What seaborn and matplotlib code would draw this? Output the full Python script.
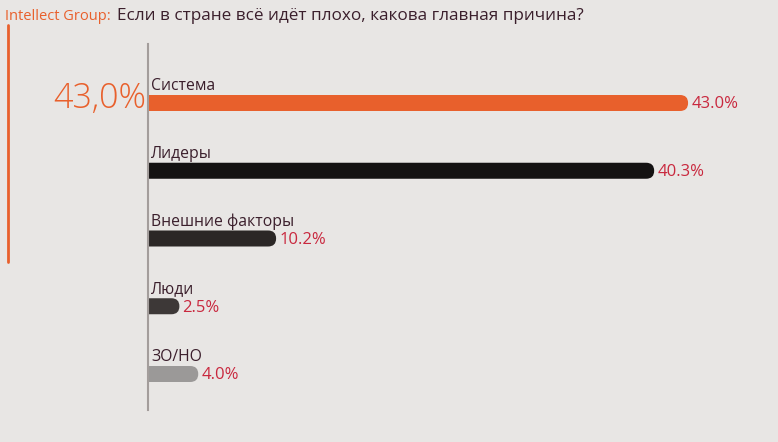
import matplotlib
matplotlib.use('Agg')
import matplotlib.pyplot as plt
from matplotlib.patches import FancyBboxPatch
from matplotlib.lines import Line2D
import seaborn as sns

# data
labels = ['Система', 'Лидеры', 'Внешние факторы', 'Люди', 'ЗО/НО']
values = [43.0, 40.3, 10.2, 2.5, 4.0]
colors = ['#e8602c', '#141212', '#2b2726', '#3d3837', '#9b9998']
brand = 'Intellect Group:'
question = 'Если в стране всё идёт плохо, какова главная причина?'

bg = '#e8e6e4'
orange = '#e8602c'
dark = '#3b1f2c'
red = '#c9283e'

sns.set_theme(style='white')
plt.rcParams['font.family'] = ['Open Sans', 'DejaVu Sans']

W, H = 778, 442
fig = plt.figure(figsize=(W / 100, H / 100), dpi=100, facecolor=bg)
ax = fig.add_axes([148 / W, (H - 410) / H, (W - 148) / W, 366 / H])
ax.set_facecolor(bg)

bar_h = 16 / 67.75
sns.barplot(x=values, y=labels, hue=labels, palette=colors, legend=False,
            orient='h', width=bar_h, ax=ax, saturation=1)

ax.set_xlim(0, (W - 148) / 12.56)
ax.set_ylim(4 + 36 / 67.75, -59 / 67.75)

# rounded right ends
px_x = ax.transData.transform((1, 0))[0] - ax.transData.transform((0, 0))[0]
px_y = abs(ax.transData.transform((0, 1))[1] - ax.transData.transform((0, 0))[1])
for p in list(ax.patches):
    x0, y0, w, h = p.get_x(), p.get_y(), p.get_width(), p.get_height()
    fc = p.get_facecolor()
    p.remove()
    r_px = h * px_y / 2
    fb = FancyBboxPatch((x0 - 2, y0), w + 2, h,
                        boxstyle=f'round,pad=0,rounding_size={r_px / px_x}',
                        mutation_aspect=px_x / px_y,
                        fc=fc, ec='none', clip_on=True)
    ax.add_patch(fb)

for i, (lab, v) in enumerate(zip(labels, values)):
    ax.text(0.25, i - 0.19, lab, ha='left', va='baseline', fontsize=11.3, color=dark)
    ax.text(v + 0.25, i + 0.02, f'{v:.1f}%', ha='left', va='center',
            fontsize=12, color=red)

ax.set_xticks([])
ax.set_yticks([])
ax.set_xlabel('')
ax.set_ylabel('')
for s in ['top', 'right', 'bottom']:
    ax.spines[s].set_visible(False)
ax.spines['left'].set_color('#a39d9b')
ax.spines['left'].set_linewidth(1.5)

# highlighted value
fig.text(146 / W, (H - 108) / H, f'{values[0]:.1f}%'.replace('.', ','),
         ha='right', va='baseline', fontsize=24.5, color=orange, fontweight='light')

# header
fig.text(5 / W, (H - 20) / H, brand, ha='left', va='baseline', fontsize=10.5, color=orange)
fig.text(117 / W, (H - 20) / H, question, ha='left', va='baseline', fontsize=12.3, color=dark)

# accent line on the left
fig.add_artist(Line2D([8 / W, 8 / W], [(H - 262) / H, (H - 25) / H],
                      color=orange, linewidth=2))

fig.savefig('out.png', dpi=100, facecolor=bg)
